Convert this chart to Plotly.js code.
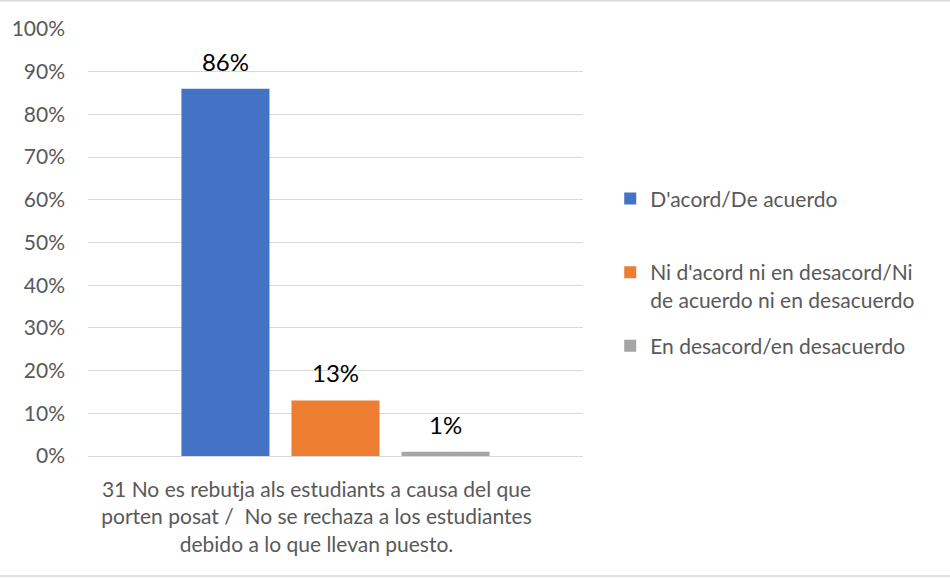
<!DOCTYPE html>
<html>
<head>
<meta charset="utf-8">
<script src="https://cdn.plot.ly/plotly-3.0.1.min.js"></script>
<style>
  html, body { margin: 0; padding: 0; background: #fff; }
  #chart { width: 950px; height: 579px; }
</style>
</head>
<body>
<div id="chart"></div>
<script>
const category = ['31 No es rebutja als estudiants a causa del que<br>porten posat /  No se rechaza a los estudiantes<br>debido a lo que llevan puesto.'];
const seriesNames = [
    "D'acord/De acuerdo<br> ",
    "Ni d'acord ni en desacord/Ni<br>de acuerdo ni en desacuerdo",
    'En desacord/en desacuerdo'
];
const seriesValues = [0.86, 0.13, 0.01];
const seriesColors = ['#4472C4', '#ED7D31', '#A5A5A5'];
const yTicks = [0, 0.1, 0.2, 0.3, 0.4, 0.5, 0.6, 0.7, 0.8, 0.9, 1];

const font = "Lato, 'Open Sans', sans-serif";

const traces = seriesNames.map((name, i) => ({
    type: 'bar',
    name: name,
    x: category,
    y: [seriesValues[i]],
    marker: {color: seriesColors[i]},
    // small base font so the blank second line only lifts the label a little
    texttemplate: '<span style="font-size:24px">%{y:.0%}</span><br> ',
    textposition: 'outside',
    textfont: {size: 10, color: '#000000', family: font},
    cliponaxis: false,
    legendgroup: 'g' + i,
    hoverinfo: 'name+y'
}));

const layout = {
    width: 950,
    height: 579,
    paper_bgcolor: '#ffffff',
    plot_bgcolor: '#ffffff',
    font: {family: font, size: 21, color: '#595959'},
    margin: {l: 88, r: 367, t: 29, b: 123, pad: 0},
    barmode: 'group',
    bargap: 0.333,
    bargroupgap: 0.2,
    showlegend: true,
    legend: {
        x: 1.055, xanchor: 'left',
        y: 0.43, yanchor: 'middle',
        valign: 'top',
        font: {size: 21, color: '#595959', family: font},
        tracegroupgap: 16,
        itemwidth: 30
    },
    xaxis: {
        showline: false,
        showgrid: false,
        zeroline: false,
        ticks: '',
        ticklabelstandoff: 19,
        ticklabelshift: -19,
        tickfont: {size: 21, color: '#595959'}
    },
    yaxis: {
        range: [0, 1],
        tickvals: yTicks,
        tickformat: '.0%',
        showgrid: true,
        gridcolor: '#d9d9d9',
        gridwidth: 1,
        zeroline: true,
        zerolinecolor: '#d9d9d9',
        showline: false,
        ticks: '',
        ticklabelstandoff: 22,
        tickfont: {size: 21, color: '#595959'}
    },
    shapes: [
        {type: 'line', xref: 'paper', yref: 'paper', x0: -0.18, x1: 1.75, y0: 1.066, y1: 1.066,
         line: {color: '#d9d9d9', width: 1.5}},
        {type: 'line', xref: 'paper', yref: 'paper', x0: -0.18, x1: 1.75, y0: -0.281, y1: -0.281,
         line: {color: '#d9d9d9', width: 1.5}}
    ]
};

Plotly.newPlot('chart', traces, layout, {displayModeBar: false});
</script>
</body>
</html>
